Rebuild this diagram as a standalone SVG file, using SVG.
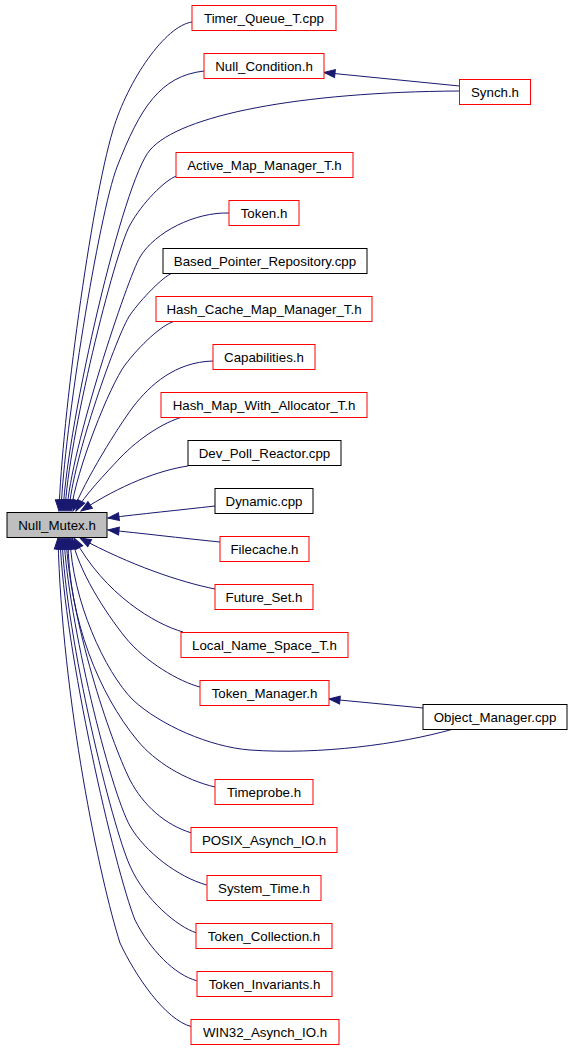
<svg xmlns="http://www.w3.org/2000/svg" width="573" height="1048" viewBox="0 0 573 1048">
<style>
.n rect{fill:#fff;stroke:#ff0000;stroke-width:1}
.n.b rect{stroke:#000}
.n.g rect{fill:#bfbfbf;stroke:#000}
.n text{font-family:"Liberation Sans",Arial,sans-serif;font-size:13.3px;fill:#000;text-anchor:middle}
.e path{fill:none;stroke:#191970;stroke-width:1;marker-end:url(#ah)}
</style>
<defs>
<marker id="ah" markerWidth="12" markerHeight="9" refX="11" refY="4" orient="auto" markerUnits="userSpaceOnUse" overflow="visible">
<path d="M0,0 L11,4 L0,8 z" fill="#191970" stroke="#191970" stroke-width="1"/>
</marker>
</defs>
<rect width="573" height="1048" fill="#fff"/>
<g id="edges" class="e">
<path d="M192,22 C165,26 128,80 113,130 C90.5,205 62,420 59,511"/>
<path d="M204,71 C160,76 140,108 117,167 C99,214 64,430 61,511"/>
<path d="M459,91 C300,92 180,115 150,150 C123,181 68,420 63,511"/>
<path d="M176.5,176 C165,180 142,203 130,225 C114,254 68,440 65,511"/>
<path d="M229,213 C195,212 155,232 140,257 C128,277 70,450 67,511"/>
<path d="M171.7,273.3 C163,277 142,298 130,315 C118,332 72,460 69,511"/>
<path d="M173.3,321.7 C162,325 140,345 125,365 C110,385 76,470 71,511"/>
<path d="M213,361 C175,362 150,385 133,407 C118,427 85,480 73,511"/>
<path d="M181.7,417.3 C165,422 140,437 120,458 C105,474 84,496 76,511"/>
<path d="M188,466 C160,470 120,485 81,511"/>
<path d="M215,506 C180,510 140,514 108,518"/>
<path d="M220,542 C180,538 140,533 108,530"/>
<path d="M215,589 C180,582 130,565 80,538"/>
<path d="M183,632 C155,624 105,595 74,538"/>
<path d="M200,687 C180,682 145,662 125,637 C105,612 78,570 72,538"/>
<path d="M451.7,729.5 C400,744 320,755 250,750 C210,747 160,725 133,700 C105,672 72,600 70,538"/>
<path d="M215,787 C185,780 155,762 137,740 C100,695 68,620 68,538"/>
<path d="M191.7,833 C165,825 143,805 130,780 C110,740 70,620 66,538"/>
<path d="M206.7,885 C178,877 145,852 130,826 C110,790 68,620 64,538"/>
<path d="M196,932.7 C178,927 145,900 130,866 C112,826 66,640 62,538"/>
<path d="M196.7,980.7 C175,975 150,950 135,920 C115,870 64,650 60,538"/>
<path d="M191.7,1026.7 C165,1020 135,975 120,943 C100,880 62,700 58,538"/>
<path d="M459.5,86 L324,72.5"/>
<path d="M423,708 L329,699"/>
</g>
<g id="Null_Mutex" class="n g"><rect x="7" y="512.5" width="100" height="25"/><text x="57" y="529.5">Null_Mutex.h</text></g>
<g id="Timer_Queue_T" class="n"><rect x="192" y="5.5" width="144" height="25"/><text x="264" y="22.5">Timer_Queue_T.cpp</text></g>
<g id="Null_Condition" class="n"><rect x="204" y="53.5" width="120" height="25"/><text x="264" y="70.5">Null_Condition.h</text></g>
<g id="Synch" class="n"><rect x="459.5" y="79.5" width="71" height="25"/><text x="495" y="96.5">Synch.h</text></g>
<g id="Active_Map_Manager_T" class="n"><rect x="176" y="152.5" width="177" height="25"/><text x="264.5" y="169.5">Active_Map_Manager_T.h</text></g>
<g id="Token" class="n"><rect x="229" y="200.5" width="70" height="25"/><text x="264" y="217.5">Token.h</text></g>
<g id="Based_Pointer_Repository" class="n b"><rect x="163" y="248.5" width="204" height="25"/><text x="265" y="265.5">Based_Pointer_Repository.cpp</text></g>
<g id="Hash_Cache_Map_Manager_T" class="n"><rect x="156" y="296.5" width="216" height="25"/><text x="264" y="313.5">Hash_Cache_Map_Manager_T.h</text></g>
<g id="Capabilities" class="n"><rect x="213" y="344.5" width="102" height="25"/><text x="264" y="361.5">Capabilities.h</text></g>
<g id="Hash_Map_With_Allocator_T" class="n"><rect x="161" y="392.5" width="206" height="25"/><text x="264" y="409.5">Hash_Map_With_Allocator_T.h</text></g>
<g id="Dev_Poll_Reactor" class="n b"><rect x="188" y="440.5" width="153" height="25"/><text x="264.5" y="457.5">Dev_Poll_Reactor.cpp</text></g>
<g id="Dynamic" class="n b"><rect x="215" y="488.5" width="98" height="25"/><text x="264" y="505.5">Dynamic.cpp</text></g>
<g id="Filecache" class="n"><rect x="220" y="536.5" width="89" height="25"/><text x="264.5" y="553.5">Filecache.h</text></g>
<g id="Future_Set" class="n"><rect x="215" y="584.5" width="98" height="25"/><text x="264" y="601.5">Future_Set.h</text></g>
<g id="Local_Name_Space_T" class="n"><rect x="181" y="632.5" width="167" height="25"/><text x="264.5" y="649.5">Local_Name_Space_T.h</text></g>
<g id="Token_Manager" class="n"><rect x="200" y="680.5" width="129" height="25"/><text x="264.5" y="697.5">Token_Manager.h</text></g>
<g id="Object_Manager" class="n b"><rect x="423" y="704.5" width="144" height="25"/><text x="495" y="721.5">Object_Manager.cpp</text></g>
<g id="Timeprobe" class="n"><rect x="215" y="779.5" width="98" height="25"/><text x="264" y="796.5">Timeprobe.h</text></g>
<g id="POSIX_Asynch_IO" class="n"><rect x="191" y="827.5" width="146" height="25"/><text x="264" y="844.5">POSIX_Asynch_IO.h</text></g>
<g id="System_Time" class="n"><rect x="207" y="875.5" width="114" height="25"/><text x="264" y="892.5">System_Time.h</text></g>
<g id="Token_Collection" class="n"><rect x="196" y="923.5" width="136" height="25"/><text x="264" y="940.5">Token_Collection.h</text></g>
<g id="Token_Invariants" class="n"><rect x="197" y="971.5" width="135" height="25"/><text x="264.5" y="988.5">Token_Invariants.h</text></g>
<g id="WIN32_Asynch_IO" class="n"><rect x="191" y="1019.5" width="148" height="25"/><text x="265" y="1036.5">WIN32_Asynch_IO.h</text></g>
</svg>
